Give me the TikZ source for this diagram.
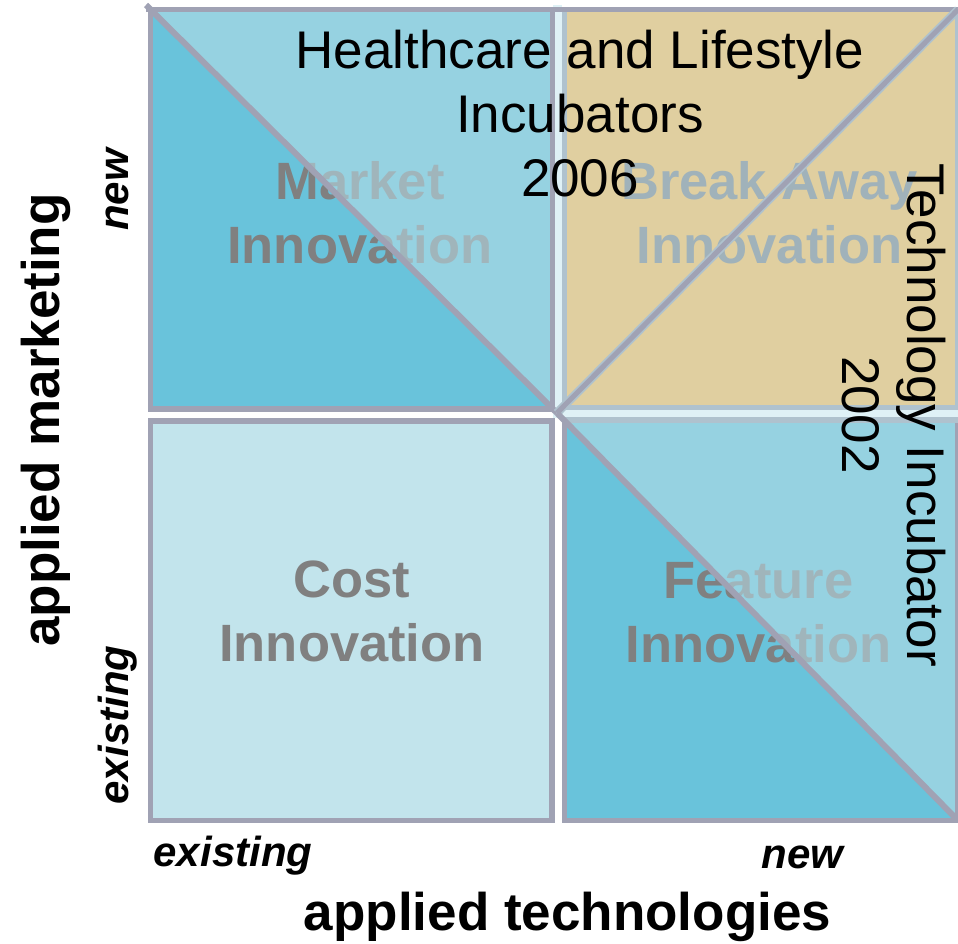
\documentclass[tikz,border=0pt]{standalone}
\usepackage{fontspec}
\setmainfont{Liberation Sans}
\definecolor{darkblue}{RGB}{105,195,219}
\definecolor{overlayblue}{RGB}{184,221,231}
\definecolor{paleblue}{RGB}{194,228,236}
\definecolor{quadtan}{RGB}{224,207,160}
\definecolor{bordergray}{RGB}{160,162,180}
\definecolor{borderlight}{RGB}{175,194,206}
\definecolor{bandlight}{RGB}{223,241,246}
\definecolor{labeldark}{RGB}{128,128,128}
\definecolor{labellight}{RGB}{160,178,186}
\begin{document}
\begin{tikzpicture}[x=1pt,y=-1pt,
  quadlabel/.style={font=\fontsize{52.5}{64}\selectfont\bfseries, align=center, inner sep=0pt, text=labeldark},
  incub/.style={font=\fontsize{53}{64}\selectfont, align=center, inner sep=0pt, text=black},
  axislabel/.style={font=\fontsize{53}{64}\selectfont\bfseries, inner sep=0pt, anchor=base},
  ticklabel/.style={font=\fontsize{42}{50}\selectfont\bfseries\itshape, inner sep=0pt, anchor=base},
  frame/.style={line width=5.5pt, line join=miter},
  overlay/.style={fill=overlayblue, fill opacity=0.58},
  diag/.style={bordergray, line width=6pt}
]
\useasboundingbox (0,0) rectangle (958,944);
\fill[white] (0,0) rectangle (958,944);

% light bands around the top-right quadrant
\fill[bandlight] (553,5) rectangle (562,414);
\fill[bandlight] (553,409) rectangle (958,418);

% top-left quadrant
\fill[darkblue] (150.5,9.5) rectangle (552.5,409);
\node[quadlabel] (market) at (360,212.5) {Market\\Innovation};
\fill[overlay] (150.5,9.5) -- (552.5,9.5) -- (552.5,409) -- cycle;
\draw[bordergray, frame] (150.5,9.5) rectangle (552.5,409);

% top-right quadrant
\fill[quadtan] (564.5,9.5) rectangle (958,407.5);
\node[quadlabel, text=labellight] (breakaway) at (769.5,212.5) {Break Away\\Innovation};
\draw[borderlight, frame] (564.5,9.5) rectangle (958,407.5);
\draw[bordergray, frame] (146,9.5) -- (958,9.5);

% bottom-left quadrant
\fill[paleblue] (150.5,421) rectangle (552,820.5);
\node[quadlabel] (cost) at (352,611) {Cost\\Innovation};
\draw[bordergray, frame] (150.5,421) rectangle (552,820.5);

% bottom-right quadrant
\fill[darkblue] (564.5,420) rectangle (958,820.5);
\node[quadlabel] (feature) at (758.5,612.5) {Feature\\Innovation};
\fill[overlay] (564,420) -- (958,420) -- (958,820.5) -- cycle;
\draw[bordergray, frame] (958,420) -- (958,820.5) -- (564.5,820.5) -- (564.5,420);
\draw[borderlight, frame] (564.5,420) -- (958,420);

% diagonals
\coordinate (mid) at (557,413);
\coordinate (tlc) at (146,5);
\coordinate (trc) at (958,9.5);
\coordinate (brc) at (958,820.5);
\draw[diag] (tlc) -- (mid);
\draw[borderlight, line width=8.5pt] (mid) -- (trc);
\draw[diag, line width=5pt] (mid) -- (trc);
\draw[diag] (mid) -- (brc);

% incubator texts
\node[incub] (health) at (580,113.7) {Healthcare and Lifestyle\\Incubators\\2006};
\node[incub, rotate=-90, font=\fontsize{53}{65}\selectfont] (techinc) at (894,415) {Technology Incubator\\2002};

% axes
\node[axislabel, rotate=90] (ymain) at (59,420) {applied marketing};
\node[axislabel] (xmain) at (567.5,930) {applied technologies};
\node[ticklabel, rotate=90] (ynew) at (128,190) {new};
\node[ticklabel, rotate=90] (yexist) at (128,725) {existing};
\node[ticklabel] (xexist) at (233,866) {existing};
\node[ticklabel] (xnew) at (802.5,868) {new};
\end{tikzpicture}
\end{document}
